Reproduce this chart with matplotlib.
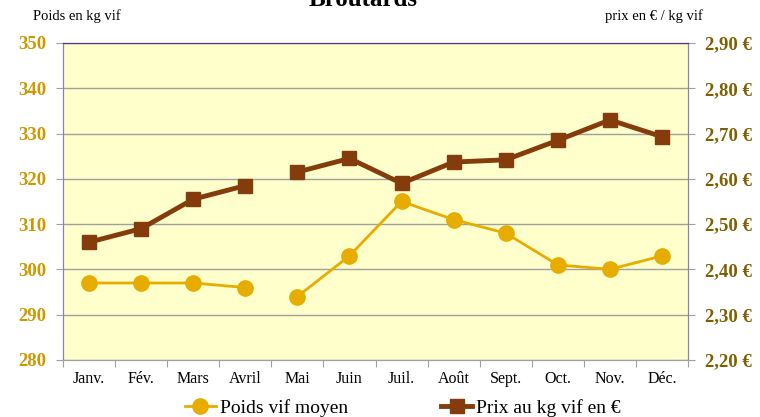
import numpy as np
import matplotlib.pyplot as plt

plt.rcParams['font.family'] = ['Liberation Serif', 'DejaVu Serif']

months = ['Janv.', 'Fév.', 'Mars', 'Avril', 'Mai', 'Juin',
          'Juil.', 'Août', 'Sept.', 'Oct.', 'Nov.', 'Déc.']
poids = [297, 297, 297, 296, 294, 303, 315, 311, 308, 301, 300, 303]
prix = [2.46, 2.49, 2.555, 2.585, 2.615, 2.645, 2.59, 2.637, 2.642, 2.685, 2.73, 2.693]
split = 4  # break in both series between Avril and Mai

gold = '#E6AC00'
brown = '#843C0C'

fig = plt.figure(figsize=(7.6, 4.17), dpi=100)
ax = fig.add_axes([0.0829, 0.1367, 0.8224, 0.7603])
ax2 = ax.twinx()
ax.set_facecolor('#FFFFCC')

x = np.arange(len(months))
ax.set_ylim(280, 350)
ax.set_yticks(range(280, 351, 10))
ax.grid(axis='y', color='#A0A0A0', linewidth=1)
ax.set_axisbelow(True)
ax.set_xlim(-0.5, len(months) - 0.5)

ax.plot(x[:split], poids[:split], color=gold, lw=2, marker='o', ms=11, label='Poids vif moyen', zorder=3)
ax.plot(x[split:], poids[split:], color=gold, lw=2, marker='o', ms=11, zorder=3)

ax2.set_ylim(2.20, 2.90)
ax2.set_yticks(np.arange(2.2, 2.901, 0.1))
ax2.set_yticklabels([f'{v:.2f} €'.replace('.', ',') for v in np.arange(2.2, 2.901, 0.1)])
ax2.plot(x[:split], prix[:split], color=brown, lw=3.5, marker='s', ms=10, label='Prix au kg vif en €')
ax2.plot(x[split:], prix[split:], color=brown, lw=3.5, marker='s', ms=10)

# x ticks between categories, labels centred
ax.set_xticks(np.arange(-0.5, len(months), 1.0))
ax.set_xticklabels([])
ax.set_xticks(x, minor=True)
ax.set_xticklabels(months, minor=True, fontsize=11.5)
ax.tick_params(axis='x', which='major', length=5, color='#A0A0A0', direction='out')
ax.tick_params(axis='x', which='minor', length=0, pad=8)
ax.tick_params(axis='y', length=5, color='#A0A0A0', labelsize=13.5, labelcolor='#CC9900', pad=7)
for t in ax.get_yticklabels():
    t.set_fontweight('bold')
ax2.tick_params(axis='y', length=5, color='#A0A0A0', labelsize=13.5, labelcolor='#7F6000', pad=7)
for t in ax2.get_yticklabels():
    t.set_fontweight('bold')

for a in (ax, ax2):
    a.spines['left'].set_color('#8F7FB0')
    a.spines['right'].set_color('#8F7FB0')
    a.spines['top'].set_color('#5B2C82')
    a.spines['bottom'].set_color('#A0A0A0')

fig.text(0.478, 1.0, 'Broutards', ha='center', va='center', fontsize=18, fontweight='bold')
fig.text(0.043, 0.962, 'Poids en kg vif', ha='left', va='center', fontsize=10.5)
fig.text(0.925, 0.962, 'prix en € / kg vif', ha='right', va='center', fontsize=10.5)

h1, l1 = ax.get_legend_handles_labels()
h2, l2 = ax2.get_legend_handles_labels()
fig.legend(h1 + h2, l1 + l2, ncol=2, loc='center', bbox_to_anchor=(0.53, 0.022),
           frameon=False, fontsize=14, handlelength=1.6, handletextpad=0.2, columnspacing=4.8)

fig.savefig('out.png', dpi=100)
